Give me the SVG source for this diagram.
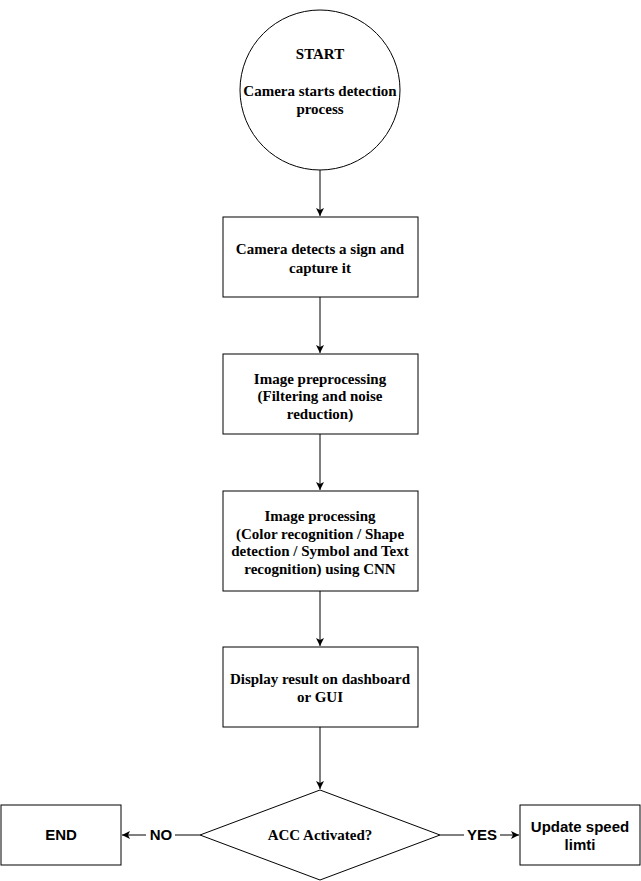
<svg xmlns="http://www.w3.org/2000/svg" width="641" height="881" viewBox="0 0 641 881">
<style>
.s{fill:#fff;stroke:#000;stroke-width:1}
.t{font-family:"Liberation Serif","Times New Roman",serif;font-weight:bold;font-size:15px;text-anchor:middle;fill:#000}
.h{font-family:"Liberation Sans",Arial,sans-serif;font-weight:bold;font-size:15px;text-anchor:middle;fill:#000}
.c{fill:none;stroke:#000;stroke-width:1}
</style>
<defs>
<marker id="a" markerWidth="10" markerHeight="10" refX="8" refY="4" orient="auto" markerUnits="userSpaceOnUse">
<path d="M0,0 L8,4 L0,8 L2,4 Z" fill="#000"/>
</marker>
</defs>
<rect width="641" height="881" fill="#fff"/>
<g id="connectors">
<path class="c" d="M320,170 V216" marker-end="url(#a)"/>
<path class="c" d="M320,297 V353" marker-end="url(#a)"/>
<path class="c" d="M320,434 V490" marker-end="url(#a)"/>
<path class="c" d="M320,591 V646" marker-end="url(#a)"/>
<path class="c" d="M320,727 V789" marker-end="url(#a)"/>
<path class="c" d="M200,835 H122" marker-end="url(#a)"/>
<path class="c" d="M440,835 H519" marker-end="url(#a)"/>
<rect x="146" y="826" width="29" height="18" fill="#fff"/>
<text class="h" x="161" y="840">NO</text>
<rect x="464" y="826" width="36" height="18" fill="#fff"/>
<text class="h" x="482" y="840">YES</text>
</g>
<g id="start">
<circle class="s" cx="320" cy="90" r="80"/>
<text class="t" x="320" y="59">START</text>
<text class="t" x="320" y="96">Camera starts detection</text>
<text class="t" x="320" y="114">process</text>
</g>
<g id="detect">
<rect class="s" x="223" y="217" width="195" height="80"/>
<text class="t" x="320" y="254">Camera detects a sign and</text>
<text class="t" x="320" y="273">capture it</text>
</g>
<g id="preprocess">
<rect class="s" x="223" y="354" width="195" height="80"/>
<text class="t" x="320" y="384">Image preprocessing</text>
<text class="t" x="320" y="401">(Filtering and noise</text>
<text class="t" x="320" y="419">reduction)</text>
</g>
<g id="process">
<rect class="s" x="223" y="491" width="195" height="100"/>
<text class="t" x="320" y="521">Image processing</text>
<text class="t" x="320" y="539">(Color recognition / Shape</text>
<text class="t" x="320" y="556">detection / Symbol and Text</text>
<text class="t" x="320" y="574">recognition) using CNN</text>
</g>
<g id="display">
<rect class="s" x="223" y="647" width="195" height="80"/>
<text class="t" x="320" y="684">Display result on dashboard</text>
<text class="t" x="320" y="702">or GUI</text>
</g>
<g id="decision">
<path class="s" d="M320,790 L440,835 L320,880 L200,835 Z"/>
<text class="t" x="320" y="840">ACC Activated?</text>
</g>
<g id="end">
<rect class="s" x="1" y="805" width="120" height="60"/>
<text class="h" x="61" y="840">END</text>
</g>
<g id="update">
<rect class="s" x="520" y="805" width="120" height="60"/>
<text class="h" x="580" y="832">Update speed</text>
<text class="h" x="580" y="850">limti</text>
</g>
</svg>
